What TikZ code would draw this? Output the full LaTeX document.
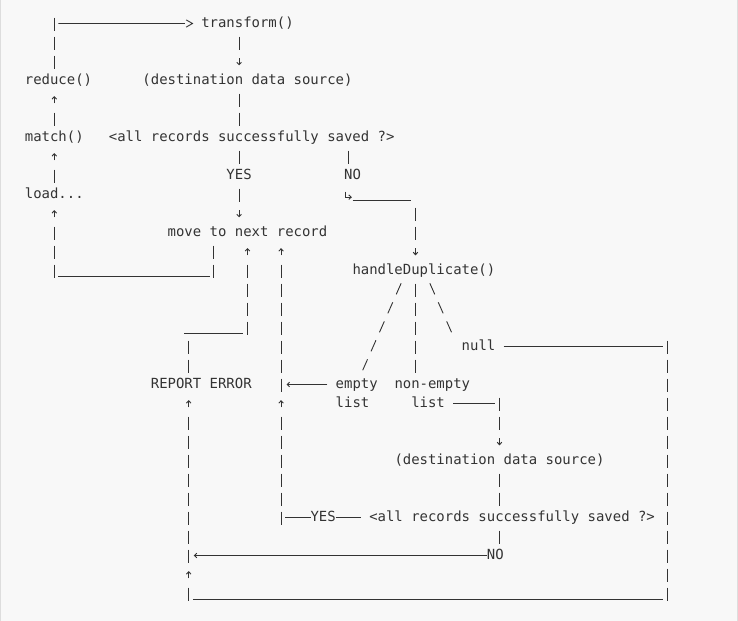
\documentclass[tikz,border=0pt]{standalone}
\usepackage{fontspec}
\newfontfamily\monofam{DejaVu Sans Mono}
\usetikzlibrary{arrows.meta}
\definecolor{ink}{HTML}{333333}
\definecolor{bgc}{HTML}{F8F8F8}
\definecolor{framec}{HTML}{DDDDDD}
\tikzset{
  lbl/.style={font=\monofam\fontsize{13.952bp}{19bp}\selectfont, text=ink, inner sep=0pt, outer sep=0pt, anchor=base west},
  pipe/.style={draw=ink, line width=0.9bp, dash pattern=on 13.5bp off 5.5bp},
  rulel/.style={draw=ink, line width=0.9bp},
  tinyarr/.style={draw=ink, line width=0.9bp, -{Straight Barb[length=2.4bp,width=4.6bp]}},
  slashl/.style={draw=ink, line width=0.9bp, dash pattern=on 12.03bp off 8.745bp},
}
\newcommand\vpipe[3]{\draw[pipe] ({#1+.5},{#2-.537}) -- ({#1+.5},{#3+.174});}
\newcommand\uparr[2]{\draw[tinyarr] ({#1+.5},{#2-.02}) -- ({#1+.5},{#2-.40});}
\newcommand\downarr[2]{\draw[tinyarr] ({#1+.5},{#2-.38}) -- ({#1+.5},{#2-.02});}
\begin{document}
\begin{tikzpicture}[x=8.4bp,y=-19bp]
\fill[bgc] (-2.964,-1.458) rectangle (84.893,31.226);
\useasboundingbox (-2.964,-1.458) rectangle (84.893,31.226);
\draw[framec, line width=1bp] (-2.904,-1.458) -- (-2.904,31.226);
\draw[framec, line width=1bp] (84.833,-1.458) -- (84.833,31.226);

% labels
\node[lbl] (transform) at (21,0) {transform()};
\node[lbl] (dest1) at (14,3) {(destination data source)};
\node[lbl] (reduce) at (0,3) {reduce()};
\node[lbl] (match) at (0,6) {match()};
\node[lbl] (saved1) at (10,6) {<all records successfully saved ?>};
\node[lbl] (yes1) at (24,8) {YES};
\node[lbl] (no1) at (38,8) {NO};
\node[lbl] (load) at (0,9) {load...};
\node[lbl] (next) at (17,11) {move to next record};
\node[lbl] (dup) at (39,13) {handleDuplicate()};
\node[lbl] (null) at (52,17) {null};
\node[lbl] (report) at (15,19) {REPORT ERROR};
\node[lbl] (empty) at (37,19) {empty};
\node[lbl] (emptyl) at (37,20) {list};
\node[lbl] (nonempty) at (44,19) {non-empty};
\node[lbl] (nonemptyl) at (46,20) {list};
\node[lbl] (dest2) at (44,23) {(destination data source)};
\node[lbl] (yes2) at (34,26) {YES};
\node[lbl] (saved2) at (41,26) {<all records successfully saved ?>};
\node[lbl] (no2) at (55,28) {NO};

% column 3 loop
\vpipe{3}{0}{2}
\draw[rulel] (4,-.221) -- (19.05,-.221)
  (19.2,-.411) -- (19.95,-.221) -- (19.2,-.031);
\uparr{3}{4} \vpipe{3}{5}{5}
\uparr{3}{7} \vpipe{3}{8}{8}
\uparr{3}{10} \vpipe{3}{11}{13}
\draw[rulel] (4,13.084) -- (22,13.084);
\vpipe{22}{12}{13}

% column 25
\vpipe{25}{1}{1} \downarr{25}{2}
\vpipe{25}{4}{5}
\vpipe{25}{7}{7} \vpipe{25}{9}{9} \downarr{25}{10}

% NO branch
\vpipe{38}{7}{7}
\draw[tinyarr] (38.19,8.632) -- (38.19,8.921) -- (38.92,8.921);
\draw[rulel] (39,9.084) -- (46,9.084);
\vpipe{46}{10}{11} \downarr{46}{12}

% handleDuplicate branches
\draw[slashl] (44.789,13.453) -- (40.211,18.031);
\vpipe{46}{14}{18}
\draw[slashl] (48.211,13.453) -- (50.789,16.031);

% column 26 / REPORT ERROR
\uparr{26}{12} \vpipe{26}{13}{16}
\draw[rulel] (19,16.084) -- (26,16.084);
\vpipe{19}{17}{18}
\uparr{19}{20} \vpipe{19}{21}{28} \uparr{19}{29} \vpipe{19}{30}{30}
\draw[rulel] (20,30.084) -- (76,30.084);
\draw[tinyarr] (55,27.779) -- (20.1,27.779);

% column 30
\uparr{30}{12} \vpipe{30}{13}{19} \uparr{30}{20} \vpipe{30}{21}{26}
\draw[tinyarr] (36,18.779) -- (31.15,18.779);
\draw[rulel] (31,25.779) -- (34,25.779);
\draw[rulel] (37,25.779) -- (40,25.779);

% column 56
\draw[rulel] (51,19.779) -- (56,19.779);
\vpipe{56}{20}{21} \downarr{56}{22} \vpipe{56}{24}{25} \vpipe{56}{27}{27}

% column 76
\draw[rulel] (57,16.779) -- (76,16.779);
\vpipe{76}{17}{30}
\end{tikzpicture}
\end{document}
